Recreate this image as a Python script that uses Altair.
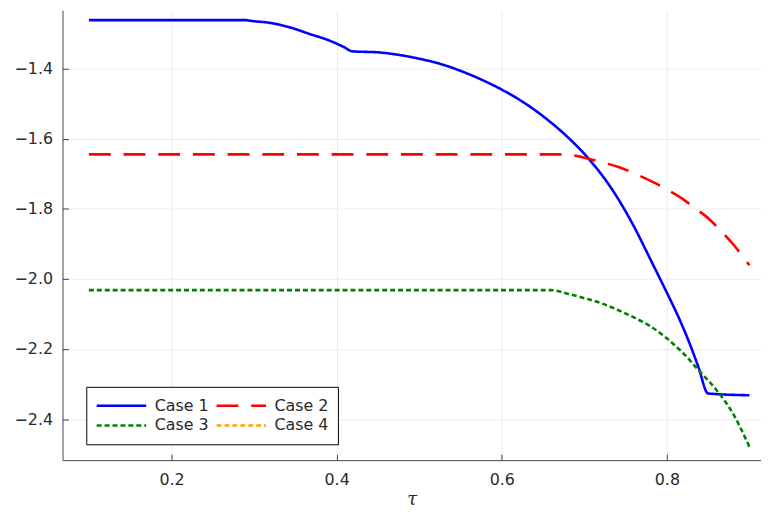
import altair as alt
import pandas as pd

# legend is filled column by column, so this order gives rows "Case 1 | Case 2" and "Case 3 | Case 4"
cases = ["Case 1", "Case 3", "Case 2", "Case 4"]
colors = ["#0000ff", "#008000", "#ff0000", "#ffa500"]
dashes = [[1, 0], [5, 3], [22, 13], [5, 3]]

case1_x = [0.100, 0.200, 0.290, 0.296, 0.320, 0.344, 0.368, 0.391, 0.409, 0.419,
           0.451, 0.475, 0.500, 0.530, 0.560, 0.590, 0.620, 0.650, 0.680, 0.704,
           0.732, 0.760, 0.780, 0.797, 0.815, 0.827, 0.838, 0.850, 0.900]
case1_y = [-1.262, -1.262, -1.262, -1.264, -1.270, -1.283, -1.302, -1.320, -1.339, -1.351,
           -1.354, -1.361, -1.372, -1.390, -1.416, -1.448, -1.487, -1.536, -1.596, -1.654,
           -1.739, -1.850, -1.944, -2.025, -2.114, -2.181, -2.250, -2.327, -2.332]

case2_x = [0.100, 0.680, 0.690, 0.704, 0.724, 0.744, 0.768, 0.784, 0.799, 0.819,
           0.835, 0.851, 0.867, 0.883, 0.900]
case2_y = [-1.645, -1.645, -1.649, -1.657, -1.669, -1.683, -1.707, -1.725, -1.744, -1.772,
           -1.800, -1.829, -1.867, -1.909, -1.961]

case3_x = [0.100, 0.660, 0.681, 0.700, 0.720, 0.740, 0.760, 0.780, 0.799, 0.819,
           0.839, 0.859, 0.879, 0.900]
case3_y = [-2.032, -2.032, -2.043, -2.055, -2.069, -2.088, -2.110, -2.135, -2.168, -2.210,
           -2.262, -2.314, -2.380, -2.479]

x_ticks = [0.2, 0.4, 0.6, 0.8]
y_ticks = [-2.4, -2.2, -2.0, -1.8, -1.6, -1.4]

rows = []
for name, xs, ys in [("Case 1", case1_x, case1_y),
                     ("Case 2", case2_x, case2_y),
                     ("Case 3", case3_x, case3_y)]:
    for i, (a, b) in enumerate(zip(xs, ys)):
        rows.append({"case": name, "tau": a, "val": b, "order": i})
df = pd.DataFrame(rows)

FONT = "DejaVu Sans"
AXC = "#444444"
LBL = "#2a2a2a"

xscale = alt.Scale(domain=[0.068, 0.914], nice=False, zero=False)
yscale = alt.Scale(domain=[-2.517, -1.234], nice=False, zero=False)

legend = alt.Legend(
    title=None, orient="none", legendX=24, legendY=380, columns=2,
    symbolType="stroke", symbolSize=2500, symbolStrokeWidth=2.5,
    clipHeight=20, labelFontSize=16, labelFont=FONT, labelColor=LBL,
    labelOffset=7, columnPadding=6, rowPadding=0, padding=9,
    strokeColor="black", fillColor="white",
)

color = alt.Color("case:N", scale=alt.Scale(domain=cases, range=colors), legend=legend)
dash = alt.StrokeDash("case:N", scale=alt.Scale(domain=cases, range=dashes), legend=legend)

lines = alt.Chart(df).mark_line(strokeWidth=2.6, interpolate="monotone").encode(
    x=alt.X("tau:Q", scale=xscale,
            axis=alt.Axis(values=x_ticks, format=".1f", grid=True, gridColor="#ebebeb",
                          tickSize=0, labelPadding=12, labelFontSize=16, labelFont=FONT,
                          labelColor=LBL, domainColor=AXC, title="τ",
                          titleFont="DejaVu Serif", titleFontStyle="italic",
                          titleFontWeight="normal", titleFontSize=18, titleColor=LBL,
                          titlePadding=3)),
    y=alt.Y("val:Q", scale=yscale,
            axis=alt.Axis(values=y_ticks, format=".1f", grid=True, gridColor="#ebebeb",
                          tickSize=0, labelPadding=10, labelFontSize=16, labelFont=FONT,
                          labelColor=LBL, domainColor=AXC, title=None)),
    color=color,
    strokeDash=dash,
    order="order:Q",
)

ticks = alt.Chart(df).mark_line(opacity=0).encode(
    x=alt.X("tau:Q", scale=xscale,
            axis=alt.Axis(values=x_ticks, labels=False, domain=False, grid=False,
                          tickSize=6, offset=-6, tickColor=AXC, title=None, orient="bottom")),
    y=alt.Y("val:Q", scale=yscale,
            axis=alt.Axis(values=y_ticks, labels=False, domain=False, grid=False,
                          tickSize=6, offset=-6, tickColor=AXC, title=None, orient="left")),
    detail="case:N",
)

chart = alt.layer(lines, ticks).resolve_axis(x="independent", y="independent").properties(
    width=705, height=454,
    padding={"left": 6, "top": 0, "right": 0, "bottom": 0},
    background="white",
).configure_view(stroke=None)

chart.save("out.html", embed_options={"renderer": "svg", "actions": False})
